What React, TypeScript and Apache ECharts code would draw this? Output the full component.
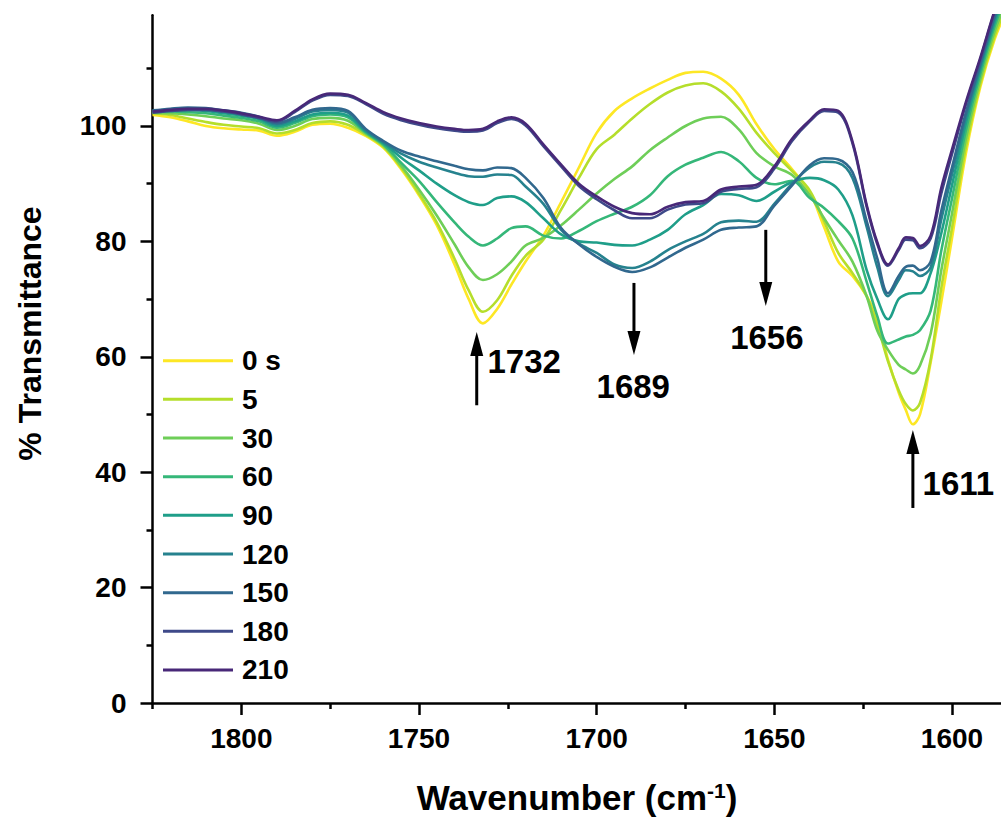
import React, { useEffect, useRef } from "react";
import * as echarts from "echarts";

// Wavenumber grid (cm-1), shared by all spectra
const wavenumbers = [
  1825, 1820, 1815, 1810, 1805, 1800, 1795, 1790, 1785, 1780, 1775, 1770, 1765, 1760, 1755, 1750,
  1745, 1740, 1736, 1732, 1728, 1724, 1720, 1715, 1710, 1705, 1700, 1695, 1690, 1685, 1680, 1675,
  1670, 1665, 1660, 1655, 1650, 1645, 1640, 1636, 1632, 1628, 1624, 1621, 1618, 1615, 1613, 1611,
  1609, 1606, 1603, 1600, 1596, 1592, 1588, 1584,
];

// % Transmittance for each time
const t0 = [101.9,101.5,100.8,100.0,99.6,99.4, 99.2,98.3,99.0,100.2,100.4, 99.7,98.3,96.2,92.5,88.0, 82.8,76.0,70.0,65.8,68.3, 72.5,76.5,81.0,86.8,92.8, 98.8,102.6,104.8,106.5,108.0, 109.2,109.4,108.2,105.4,100.3, 96.0,92.5,88.5,82.5,76.5, 74.0,70.5,66.5,59.5,53.8, 50.8,48.3,50.0,59.0,69.5, 80.5,95.5,106.8,115.0,121.0];
const t5 = [102.2,101.9,101.3,100.7,100.2,99.9, 99.6,98.7,99.3,100.5,100.8, 100.2,98.5,96.4,92.8,88.3, 83.3,77.0,71.5,67.8,69.8, 74.0,77.5,80.3,85.5,91.0, 96.0,98.5,101.3,103.8,105.8, 107.0,107.4,106.0,103.0,98.8, 95.3,92.2,88.8,83.5,78.0, 74.5,70.5,65.5,59.2,54.2, 51.8,50.7,52.0,59.5,71.9, 82.3,96.6,107.4,115.6,121.7];
const t30 = [102.3,102.2,102.0,101.7,101.3,101.0, 100.4,99.3,100.0,101.2,101.4, 100.9,98.7,96.6,93.1,89.0, 84.5,79.5,75.5,73.3,74.3, 76.5,79.3,80.6,82.8,85.5, 88.3,90.8,93.0,95.8,98.0, 100.0,101.3,101.6,99.4,95.3, 93.0,91.5,88.0,84.0,80.2, 76.5,70.5,64.5,61.2,58.6, 57.8,57.1,58.5,64.0,75.0, 84.8,98.0,108.2,116.4,122.7];
const t60 = [102.4,102.5,102.4,102.2,101.8,101.4, 100.8,99.7,100.5,101.7,102.0, 101.5,98.9,96.8,93.6,90.5, 86.8,83.3,80.8,79.3,80.5, 82.3,82.6,81.0,80.5,81.8, 83.5,84.8,86.0,88.0,91.3, 93.3,94.5,95.5,93.9,91.0, 89.9,90.5,87.5,85.8,83.5, 80.5,73.0,67.0,62.3,63.0, 63.5,63.8,64.6,68.0,78.4, 87.4,99.5,109.1,117.3,123.7];
const t90 = [102.5,102.7,102.8,102.6,102.2,101.8, 101.2,100.0,100.8,102.0,102.3, 101.8,99.1,97.0,94.5,92.3, 90.0,88.0,86.8,86.3,87.5, 87.8,86.8,84.0,81.2,80.0, 79.8,79.4,79.3,80.3,82.0, 84.7,86.3,88.2,88.0,87.0, 88.6,90.3,91.0,90.6,89.0, 84.5,75.0,70.0,66.5,70.0, 70.8,71.0,71.0,74.5,81.4, 89.7,100.8,109.9,118.0,124.6];
const t120 = [102.6,102.9,103.0,102.9,102.5,102.1, 101.4,100.3,101.2,102.5,102.8, 102.3,99.3,97.2,95.2,93.8, 92.8,91.9,91.3,91.2,91.6, 91.5,89.5,86.5,82.0,79.6, 78.0,76.0,75.4,76.5,78.5, 80.0,81.3,83.3,83.6,83.4, 86.5,90.0,92.8,93.8,93.6, 91.0,82.5,75.5,70.5,73.3, 75.0,74.8,74.0,75.5,83.8, 91.6,101.8,110.5,118.6,125.3];
const t150 = [102.7,103.0,103.2,103.1,102.7,102.3, 101.6,100.5,101.5,102.8,103.1, 102.6,99.5,97.4,95.7,94.7, 93.9,93.1,92.5,92.3,92.8, 92.7,91.0,87.5,82.3,79.5, 77.3,75.6,74.7,75.5,77.2, 78.9,80.3,82.0,82.4,82.6, 86.2,89.7,93.2,94.4,94.2, 92.0,83.5,77.0,71.0,74.0, 75.6,75.8,75.0,76.5,85.3, 92.8,102.5,110.9,119.0,125.8];
const t180 = [102.3,102.6,102.8,102.8,102.5,102.0, 101.4,100.8,102.4,104.4,105.4, 105.2,103.8,102.1,101.0,100.2, 99.6,99.2,99.0,99.2,100.5, 101.2,100.1,96.5,93.0,89.6, 87.3,85.4,84.0,84.0,85.5, 86.4,86.6,88.6,89.1,89.4, 92.6,97.4,100.8,102.6,102.3, 97.0,86.0,79.5,75.8,78.5, 80.3,80.2,78.8,80.5,88.3, 95.1,103.9,111.6,119.8,126.7];
const t210 = [102.5,102.8,103.0,103.0,102.7,102.2, 101.6,101.0,102.6,104.6,105.6, 105.4,104.0,102.4,101.3,100.5, 99.9,99.5,99.3,99.5,100.8, 101.5,100.4,96.8,93.3,90.0, 87.8,86.0,84.9,84.7,86.0, 86.8,87.0,89.0,89.5,89.8, 93.0,97.8,101.0,102.9,102.6, 97.3,86.3,79.8,76.0,78.8, 80.7,80.6,79.2,81.0,89.3, 95.9,104.3,111.9,120.0,127.0];

const seriesNames = ["0 s", "5", "30", "60", "90", "120", "150", "180", "210"];
const seriesColors = ["#fde725", "#b5de2b", "#6ece58", "#35b779", "#1f9e89", "#26828e", "#31688e", "#3e4989", "#482878"];

const yMajorTicks = [0, 20, 40, 60, 80, 100];
const yMinorTicks = [10, 30, 50, 70, 90, 110];
const xMajorTicks = [1800, 1750, 1700, 1650, 1600];
const xMinorTicks = [1825, 1775, 1725, 1675, 1625];

// Peak annotations (arrow position in data units, label position in data units)
const peakLabels = ["1732", "1689", "1656", "1611"];
const arrowWave = [1733.75, 1689.5, 1652.4, 1611.0];
const arrowTail = [51.6, 72.8, 82.0, 33.8];
const arrowTip = [64.3, 60.3, 68.8, 47.3];
const labelWave = [1720.4, 1689.7, 1652.1, 1598.2];
const labelValue = [59.1, 54.9, 63.4, 38.0];

const FONT = "'Liberation Sans', Arial, Helvetica, sans-serif";
const X_MIN = 1586.2;
const X_MAX = 1825;
const Y_MIN = 0;
const Y_MAX = 119.2;

export default function App() {
  const ref = useRef<HTMLDivElement>(null);

  useEffect(() => {
    if (!ref.current) return;
    const chart = echarts.init(ref.current, null, { renderer: "svg" });
    const allData = [t0, t5, t30, t60, t90, t120, t150, t180, t210];
    const black = "#000";
    const lineW = 2.5;
    const plain = (v: number) => String(v);

    chart.setOption({
      animation: false,
      backgroundColor: "#fff",
      grid: { left: 152.5, right: 0, top: 15.2, bottom: 116, containLabel: false },
      xAxis: [
        {
          type: "value", min: X_MIN, max: X_MAX, inverse: true, position: "bottom",
          axisLine: { show: true, onZero: false, lineStyle: { color: black, width: lineW } },
          axisTick: { show: true, customValues: xMajorTicks, length: 12, lineStyle: { color: black, width: lineW } },
          axisLabel: { show: true, customValues: xMajorTicks, formatter: plain, margin: 21, fontSize: 28, fontWeight: "bold", fontFamily: FONT, color: black },
          splitLine: { show: false },
        },
        {
          type: "value", min: X_MIN, max: X_MAX, inverse: true, position: "bottom",
          axisLine: { show: false, onZero: false },
          axisTick: { show: true, customValues: xMinorTicks, length: 6, lineStyle: { color: black, width: lineW } },
          axisLabel: { show: false },
          splitLine: { show: false },
        },
      ],
      yAxis: [
        {
          type: "value", min: Y_MIN, max: Y_MAX, position: "left",
          axisLine: { show: true, onZero: false, lineStyle: { color: black, width: lineW } },
          axisTick: { show: true, customValues: yMajorTicks, length: 12, lineStyle: { color: black, width: lineW } },
          axisLabel: { show: true, customValues: yMajorTicks, formatter: plain, margin: 26, fontSize: 28, fontWeight: "bold", fontFamily: FONT, color: black },
          splitLine: { show: false },
        },
        {
          type: "value", min: Y_MIN, max: Y_MAX, position: "left",
          axisLine: { show: false, onZero: false },
          axisTick: { show: true, customValues: yMinorTicks, length: 6, lineStyle: { color: black, width: lineW } },
          axisLabel: { show: false },
          splitLine: { show: false },
        },
      ],
      legend: {
        orient: "vertical",
        left: 158,
        top: 345.7,
        padding: [0, 5, 0, 5],
        itemWidth: 70,
        itemHeight: 3,
        itemGap: 8.66,
        icon: "rect",
        selectedMode: false,
        data: seriesNames,
        textStyle: { fontSize: 28, fontWeight: "bold", fontFamily: FONT, color: black, lineHeight: 30, padding: [0, 0, 0, 4] },
      },
      series: allData.map((d, i) => ({
        type: "line",
        name: seriesNames[i],
        xAxisIndex: 0,
        yAxisIndex: 0,
        data: wavenumbers.map((w, j) => [w, d[j]]),
        showSymbol: false,
        symbol: "none",
        smooth: 0.35,
        clip: true,
        lineStyle: { width: 2.6, color: seriesColors[i] },
        itemStyle: { color: seriesColors[i] },
        emphasis: { disabled: true },
      })),
    });

    const px = (w: number, v: number) => chart.convertToPixel({ seriesIndex: 0 }, [w, v]) as number[];
    const graphics: any[] = [];
    for (let i = 0; i < peakLabels.length; i++) {
      const [x, yTail] = px(arrowWave[i], arrowTail[i]);
      const [, yTip] = px(arrowWave[i], arrowTip[i]);
      const dir = yTip < yTail ? -1 : 1;
      const headLen = 24;
      const headHalf = 6.5;
      const yBase = yTip - dir * headLen;
      graphics.push({
        type: "line", silent: true, z: 10,
        shape: { x1: x, y1: yTail, x2: x, y2: yBase + dir * 2 },
        style: { stroke: black, lineWidth: 3 },
      });
      graphics.push({
        type: "polygon", silent: true, z: 10,
        shape: { points: [[x, yTip], [x - headHalf, yBase], [x + headHalf, yBase]] },
        style: { fill: black },
      });
      const [lx, ly] = px(labelWave[i], labelValue[i]);
      graphics.push({
        type: "text", silent: true, z: 10, x: lx, y: ly,
        style: {
          text: peakLabels[i], fontSize: 33, fontWeight: "bold", fontFamily: FONT, fill: black,
          align: "center", verticalAlign: "middle", textAlign: "center", textVerticalAlign: "middle",
        },
      });
    }
    graphics.push({
      type: "text", silent: true, x: 30, y: 333.5, rotation: Math.PI / 2,
      style: {
        text: "% Transmittance", fontSize: 32, fontWeight: "bold", fontFamily: FONT, fill: black,
        align: "center", verticalAlign: "middle", textAlign: "center", textVerticalAlign: "middle",
      },
    });
    graphics.push({
      type: "text", silent: true, x: 577, y: 797,
      style: {
        text: "Wavenumber (cm{sup|-1})", fontSize: 35, fontWeight: "bold", fontFamily: FONT, fill: black,
        align: "center", verticalAlign: "middle", textAlign: "center", textVerticalAlign: "middle",
        rich: { sup: { fontSize: 21, fontWeight: "bold", fontFamily: FONT, fill: black, verticalAlign: "top" } },
      },
    });
    chart.setOption({ graphic: graphics });

    return () => chart.dispose();
  }, []);

  return (
    <div
      ref={ref}
      style={{ position: "absolute", left: 0, top: 0, width: 1001, height: 819, overflow: "hidden", background: "#fff" }}
    />
  );
}
